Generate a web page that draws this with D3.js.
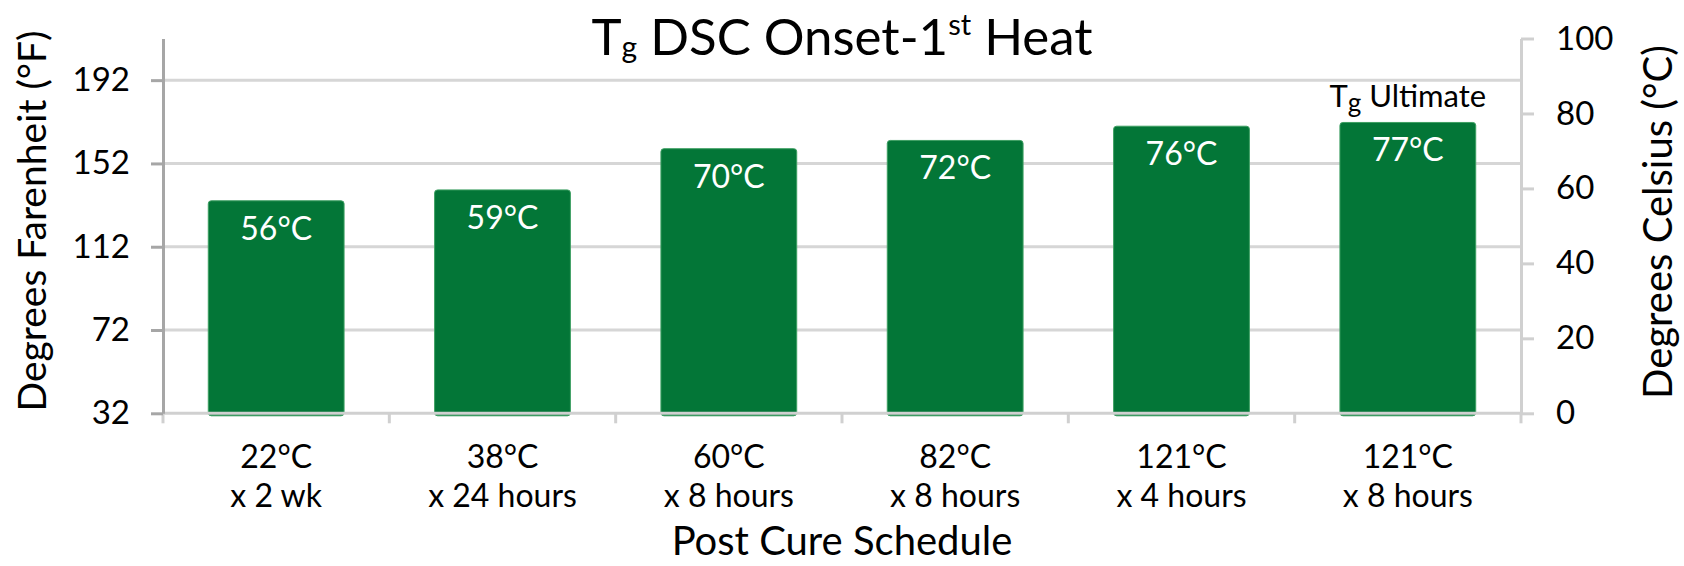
<!DOCTYPE html>
<html>
<head>
<meta charset="utf-8">
<script src="https://cdn.jsdelivr.net/npm/d3@7"></script>
<style>
  body { margin: 0; background: #fff; }
  svg text { font-family: Lato, "Open Sans", sans-serif; fill: #000; }
</style>
</head>
<body>
<svg id="chart" width="1684" height="566"></svg>
<script>
// data
var categories = ["22°C|x 2 wk", "38°C|x 24 hours", "60°C|x 8 hours", "82°C|x 8 hours", "121°C|x 4 hours", "121°C|x 8 hours"];
var tgCelsius = [56.7, 59.6, 70.6, 72.8, 76.6, 77.6];
var barLabels = ["56°C", "59°C", "70°C", "72°C", "76°C", "77°C"];
var fahrenheitTicks = [32, 72, 112, 152, 192];
var celsiusTicks = [0, 20, 40, 60, 80, 100];

var svgWidth = 1684, svgHeight = 566;
var margin = { top: 38.5, right: 163, bottom: 152.7, left: 163 };
var width = 1521 - margin.left;
var height = 413.3 - margin.top;

var svg = d3.select("#chart");
var g = svg.append("g").attr("transform", "translate(" + margin.left + "," + margin.top + ")");

var x = d3.scaleBand().domain(categories).range([0, width]).paddingInner(0.4).paddingOuter(0.2);
var yC = d3.scaleLinear().domain([0, 100]).range([height, 0]);
var yF = d3.scaleLinear().domain([32, 212]).range([height, 0]);

// gridlines
g.selectAll(".grid").data(fahrenheitTicks.slice(1)).enter().append("line")
  .attr("x1", 0).attr("x2", width)
  .attr("y1", function(d) { return yF(d); })
  .attr("y2", function(d) { return yF(d); })
  .attr("stroke", "#d6d6d6").attr("stroke-width", 3);

// bars
g.selectAll(".bar").data(tgCelsius).enter().append("rect")
  .attr("x", function(d, i) { return x(categories[i]); })
  .attr("y", function(d) { return yC(d); })
  .attr("width", x.bandwidth())
  .attr("height", function(d) { return height - yC(d) + 2.5; })
  .attr("rx", 3)
  .attr("fill", "#037637")
  .attr("stroke", "#3d9f62").attr("stroke-width", 1);

g.selectAll(".barLabel").data(tgCelsius).enter().append("text")
  .attr("x", function(d, i) { return x(categories[i]) + x.bandwidth() / 2; })
  .attr("y", function(d) { return yC(d) + 39; })
  .attr("text-anchor", "middle")
  .style("font-size", "32px")
  .style("fill", "#fff")
  .text(function(d, i) { return barLabels[i]; });

// T_g ultimate note above the last bar
var last = categories.length - 1;
var note = g.append("text")
  .attr("x", x(categories[last]) + x.bandwidth() / 2)
  .attr("y", yC(tgCelsius[last]) - 15.5)
  .attr("text-anchor", "middle")
  .style("font-size", "31px");
note.append("tspan").text("T");
note.append("tspan").attr("dy", 5).style("font-size", "26px").text("g");
note.append("tspan").attr("dy", -5).text(" Ultimate");

// bottom axis
g.append("line").attr("x1", 0).attr("x2", width).attr("y1", height).attr("y2", height)
  .attr("stroke", "#d0d0d0").attr("stroke-width", 3);
var bounds = categories.map(function(c) { return x(c) - x.step() * 0.2; }).concat([width]);
g.selectAll(".xtick").data(bounds).enter().append("line")
  .attr("x1", function(d) { return d; }).attr("x2", function(d) { return d; })
  .attr("y1", height).attr("y2", height + 10)
  .attr("stroke", "#d0d0d0").attr("stroke-width", 3);

var xl = g.selectAll(".xlab").data(categories).enter().append("text")
  .attr("text-anchor", "middle")
  .attr("transform", function(d) { return "translate(" + (x(d) + x.bandwidth() / 2) + "," + (height + 55) + ")"; })
  .style("font-size", "32px");
xl.append("tspan").attr("x", 0).text(function(d) { return d.split("|")[0]; });
xl.append("tspan").attr("x", 0).attr("dy", 38.5).text(function(d) { return d.split("|")[1]; });

// left axis (Fahrenheit)
var leftAxis = g.append("g")
  .call(d3.axisLeft(yF).tickValues(fahrenheitTicks).tickSize(12).tickPadding(21).tickSizeOuter(0));
leftAxis.select(".domain").attr("stroke", "#a6a6a6").attr("stroke-width", 3);
leftAxis.selectAll(".tick line").attr("stroke", "#a6a6a6").attr("stroke-width", 3);
leftAxis.selectAll(".tick text").style("font-size", "33px").style("font-family", "Lato, sans-serif").attr("fill", "#000");

// right axis (Celsius)
var rightAxis = g.append("g").attr("transform", "translate(" + width + ",0)")
  .call(d3.axisRight(yC).tickValues(celsiusTicks).tickSize(13).tickPadding(22).tickSizeOuter(0));
rightAxis.select(".domain").attr("stroke", "#d0d0d0").attr("stroke-width", 3);
rightAxis.selectAll(".tick line").attr("stroke", "#d0d0d0").attr("stroke-width", 3);
rightAxis.selectAll(".tick text").style("font-size", "33px").style("font-family", "Lato, sans-serif").attr("fill", "#000");

// titles
var title = svg.append("text")
  .attr("x", margin.left + width / 2).attr("y", 55)
  .attr("text-anchor", "middle")
  .style("font-size", "51px");
title.append("tspan").text("T");
title.append("tspan").attr("dy", 3).style("font-size", "30px").text("g");
title.append("tspan").attr("dy", -3).text(" DSC Onset-1");
title.append("tspan").attr("dy", -20).style("font-size", "29px").text("st");
title.append("tspan").attr("dy", 20).text(" Heat");

svg.append("text")
  .attr("x", margin.left + width / 2).attr("y", 555)
  .attr("text-anchor", "middle")
  .style("font-size", "40px")
  .text("Post Cure Schedule");

svg.append("text")
  .attr("transform", "translate(46,221) rotate(-90)")
  .attr("text-anchor", "middle")
  .style("font-size", "39px")
  .text("Degrees Farenheit (°F)");

svg.append("text")
  .attr("transform", "translate(1672,222) rotate(-90)")
  .attr("text-anchor", "middle")
  .style("font-size", "40px")
  .text("Degrees Celsius (°C)");
</script>
</body>
</html>
